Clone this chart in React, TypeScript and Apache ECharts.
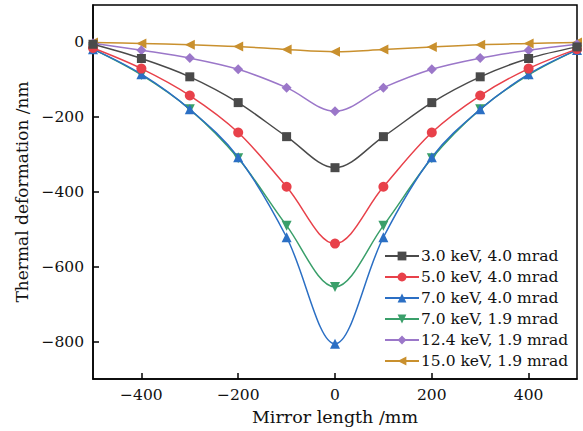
import React, { useEffect, useRef } from "react";
import * as echarts from "echarts";

const xValues = [-500, -400, -300, -200, -100, 0, 100, 200, 300, 400, 500];
const s30_40 = [-5, -43, -92, -161, -252, -335, -252, -161, -92, -43, -12];
const s50_40 = [-15, -70, -142, -241, -386, -538, -386, -241, -142, -70, -18];
const s70_40 = [-18, -85, -179, -307, -521, -806, -521, -307, -179, -85, -20];
const s70_19 = [-18, -87, -179, -310, -490, -654, -490, -310, -179, -87, -20];
const s124_19 = [-2, -21, -42, -72, -121, -184, -121, -72, -42, -21, -5];
const s150_19 = [0, -3, -6, -11, -19, -25, -19, -12, -6, -3, 0];

const seriesNames = [
  "3.0 keV, 4.0 mrad",
  "5.0 keV, 4.0 mrad",
  "7.0 keV, 4.0 mrad",
  "7.0 keV, 1.9 mrad",
  "12.4 keV, 1.9 mrad",
  "15.0 keV, 1.9 mrad",
];
const seriesData = [s30_40, s50_40, s70_40, s70_19, s124_19, s150_19];
const colors = ["#4a4a4a", "#e8414a", "#2b6fc4", "#3a9f6a", "#9b77c9", "#c9902e"];
const symbols = ["rect", "circle", "triangle", "triangle", "diamond", "triangle"];
const rotations = [0, 0, 0, 180, 0, 90];
const xTicks = [-400, -200, 0, 200, 400];
const yTicks = [-800, -600, -400, -200, 0];

const FONT = "DejaVu Serif";
const fmt = (v: number) => String(v).replace("-", "\u2212");

export default function App() {
  const ref = useRef<HTMLDivElement>(null);
  useEffect(() => {
    document.body.style.margin = "0";
    const chart = echarts.init(ref.current!, null, { renderer: "svg" });
    chart.setOption({
      animation: false,
      grid: {
        left: 93,
        right: 6,
        top: 5,
        bottom: 52,
        show: true,
        borderColor: "#000",
        borderWidth: 1.5,
      },
      legend: {
        orient: "vertical",
        left: 379,
        top: 243,
        itemWidth: 34,
        itemHeight: 11,
        itemGap: 5,
        textStyle: { fontFamily: FONT, fontSize: 15.5, color: "#111", padding: [0, 0, 0, -3] },
        data: seriesNames,
      },
      xAxis: {
        type: "value",
        min: -500,
        max: 500,
        name: "Mirror length /mm",
        nameLocation: "middle",
        nameGap: 29,
        nameTextStyle: { fontFamily: FONT, fontSize: 17.5, color: "#111" },
        axisLine: { show: true, onZero: false, lineStyle: { color: "#000", width: 1.5 } },
        axisTick: { show: true, inside: true, length: 6, lineStyle: { color: "#000", width: 1.5 }, customValues: xTicks },
        axisLabel: { fontFamily: FONT, fontSize: 15.5, color: "#111", margin: 8, formatter: fmt, customValues: xTicks },
        splitLine: { show: false },
      },
      yAxis: {
        type: "value",
        min: -900,
        max: 100,
        name: "Thermal deformation /nm",
        nameLocation: "middle",
        nameGap: 62,
        nameTextStyle: { fontFamily: FONT, fontSize: 17, color: "#111" },
        axisLine: { show: true, onZero: false, lineStyle: { color: "#000", width: 1.5 } },
        axisTick: { show: true, inside: true, length: 6, lineStyle: { color: "#000", width: 1.5 }, customValues: yTicks },
        axisLabel: { fontFamily: FONT, fontSize: 15.5, color: "#111", margin: 9, formatter: fmt, customValues: yTicks },
        splitLine: { show: false },
      },
      series: seriesNames.map((name, i) => ({
        name,
        type: "line",
        smooth: 0.35,
        data: xValues.map((x, j) => [x, seriesData[i][j]]),
        symbol: symbols[i],
        symbolSize: i === 0 ? 9 : 10,
        symbolRotate: rotations[i],
        color: colors[i],
        lineStyle: { width: 1.5, color: colors[i] },
        itemStyle: { color: colors[i] },
        z: 10 - i,
      })),
    });
    return () => chart.dispose();
  }, []);
  return <div ref={ref} style={{ width: 583, height: 431 }} />;
}
